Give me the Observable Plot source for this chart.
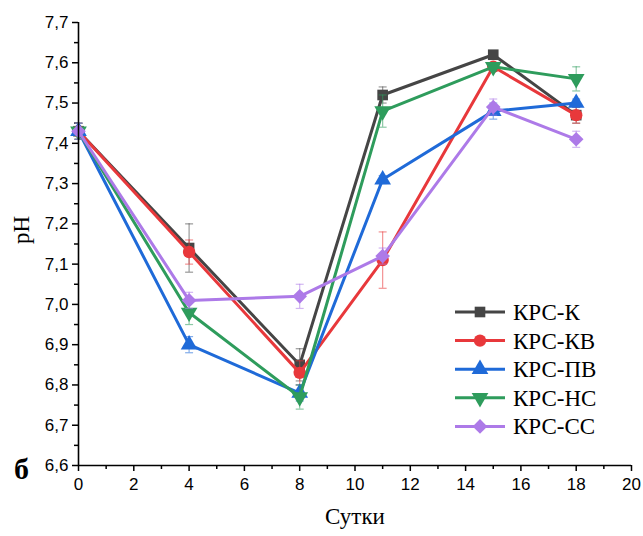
<!DOCTYPE html>
<html>
<head>
<meta charset="utf-8">
<script src="https://cdn.jsdelivr.net/npm/d3@7"></script>
<script src="https://cdn.jsdelivr.net/npm/@observablehq/plot@0.6"></script>
<style>
  body { margin: 0; background: #fff; }
  #wrap { position: relative; width: 643px; height: 536px; background: #fff; }
  #panel { position: absolute; left: 14px; top: 452px; font: bold 30px "Liberation Serif", "Times New Roman", serif; }
  #legend { position: absolute; left: 450px; top: 296px; }
</style>
</head>
<body>
<div id="wrap">
  <div id="chart"></div>
  <div id="panel">б</div>
  <svg id="legend" width="190" height="150"></svg>
</div>
<script>
// ---- data ----
const days = [0, 4, 8, 11, 15, 18];
const seriesNames = ["КРС-К", "КРС-КВ", "КРС-ПВ", "КРС-НС", "КРС-СС"];
const phK  = [7.43, 7.14, 6.85, 7.52, 7.62, 7.47];
const phKV = [7.43, 7.13, 6.83, 7.11, 7.59, 7.47];
const phPV = [7.43, 6.90, 6.78, 7.31, 7.48, 7.50];
const phNS = [7.43, 6.98, 6.77, 7.48, 7.59, 7.56];
const phSS = [7.43, 7.01, 7.02, 7.12, 7.49, 7.41];
const errK  = [0.02, 0.06, 0.04, 0.02, 0.01, 0.02];
const errKV = [0.02, 0.03, 0.03, 0.07, 0.01, 0.02];
const errPV = [0.02, 0.02, 0.02, 0.01, 0.02, 0.01];
const errNS = [0.02, 0.03, 0.03, 0.04, 0.01, 0.03];
const errSS = [0.02, 0.02, 0.03, 0.02, 0.02, 0.02];
const xTicks = [0, 2, 4, 6, 8, 10, 12, 14, 16, 18, 20];
const xMinor = [1, 3, 5, 7, 9, 11, 13, 15, 17, 19];
const yTicks = [6.6, 6.7, 6.8, 6.9, 7.0, 7.1, 7.2, 7.3, 7.4, 7.5, 7.6, 7.7];
const yMinor = [6.65, 6.75, 6.85, 6.95, 7.05, 7.15, 7.25, 7.35, 7.45, 7.55, 7.65];
const xLabel = "Сутки";
const yLabel = "pH";

// ---- styling ----
const colors = ["#454545", "#e8383b", "#1f6ad8", "#2e9c5c", "#ad7ae8"];
const downTriangle = {
  draw(ctx, size) {
    const s3 = Math.sqrt(3);
    const y = Math.sqrt(size / (s3 * 3));
    ctx.moveTo(0, 2 * y);
    ctx.lineTo(-s3 * y, -y);
    ctx.lineTo(s3 * y, -y);
    ctx.closePath();
  }
};
const capSymbol = {
  draw(ctx, size) {
    const w = Math.sqrt(size) / 2;
    ctx.moveTo(-w, 0);
    ctx.lineTo(w, 0);
  }
};
const symbols = ["square", "circle", "triangle", downTriangle, "diamond2"];
const radii = [6, 6.2, 6.2, 6.2, 6.6];

const values = [phK, phKV, phPV, phNS, phSS];
const errors = [errK, errKV, errPV, errNS, errSS];
const rows = seriesNames.map((name, i) => days.map((d, j) => ({
  series: name, day: d, ph: values[i][j], lo: values[i][j] - errors[i][j], hi: values[i][j] + errors[i][j]
})));

const fmt = d => d3.format(".1f")(d).replace(".", ",");

const marks = [
  Plot.axisY(yTicks, {tickSize: 6, tickPadding: 4, tickFormat: fmt, label: null, fontSize: 17, strokeWidth: 1.5}),
  Plot.axisY(yMinor, {tickSize: 4, tickFormat: () => "", label: null, strokeWidth: 1.5}),
  Plot.axisX(xTicks, {tickSize: 6, tickPadding: 6, tickFormat: d => String(d), label: null, fontSize: 17, strokeWidth: 1.5}),
  Plot.axisX(xMinor, {tickSize: 4, tickFormat: () => "", label: null, strokeWidth: 1.5}),
];
rows.forEach((data, i) => {
  marks.push(
    Plot.ruleX(data, {x: "day", y1: "lo", y2: "hi", stroke: colors[i], strokeOpacity: 0.55, strokeWidth: 1.2}),
    Plot.dot(data, {x: "day", y: "lo", symbol: capSymbol, r: 4.5, stroke: colors[i], strokeOpacity: 0.55, strokeWidth: 1.2}),
    Plot.dot(data, {x: "day", y: "hi", symbol: capSymbol, r: 4.5, stroke: colors[i], strokeOpacity: 0.55, strokeWidth: 1.2}),
    Plot.line(data, {x: "day", y: "ph", stroke: colors[i], strokeWidth: 3}),
    Plot.dot(data, {x: "day", y: "ph", symbol: symbols[i], r: radii[i], fill: colors[i], stroke: null})
  );
});
marks.push(
  Plot.ruleX([0], {stroke: "#000", strokeWidth: 1.6}),
  Plot.ruleY([6.6], {stroke: "#000", strokeWidth: 1.6}),
  Plot.text([xLabel], {frameAnchor: "bottom", dy: 58, fontFamily: "Liberation Serif", fontSize: 23, fill: "#000"}),
  Plot.text([yLabel], {frameAnchor: "left", dx: -57, rotate: -90, fontFamily: "Liberation Serif", fontSize: 23, fill: "#000"})
);

const chart = Plot.plot({
  width: 643,
  height: 536,
  marginLeft: 78,
  marginRight: 12,
  marginTop: 22,
  marginBottom: 71,
  x: {domain: [0, 20]},
  y: {domain: [6.6, 7.7]},
  style: {fontFamily: "Liberation Sans, Arial, sans-serif", fontSize: "17px", color: "#000", background: "#fff"},
  marks
});
document.getElementById("chart").appendChild(chart);

// ---- legend ----
const leg = d3.select("#legend");
const rowH = 28.6;
seriesNames.forEach((name, i) => {
  const g = leg.append("g").attr("transform", `translate(0, ${16 + i * rowH})`);
  g.append("line").attr("x1", 5).attr("x2", 55).attr("y1", 0).attr("y2", 0)
    .attr("stroke", colors[i]).attr("stroke-width", 3);
  const symType = typeof symbols[i] === "string"
    ? {square: d3.symbolSquare, circle: d3.symbolCircle, triangle: d3.symbolTriangle, diamond2: d3.symbolDiamond2}[symbols[i]]
    : symbols[i];
  g.append("path").attr("transform", "translate(30,0)")
    .attr("d", d3.symbol(symType, Math.PI * radii[i] * radii[i])())
    .attr("fill", colors[i]);
  g.append("text").attr("x", 63).attr("y", 0).attr("dy", "0.35em")
    .attr("font-family", "Liberation Serif, Times New Roman, serif").attr("font-size", 23)
    .attr("fill", "#000").text(name);
});
</script>
</body>
</html>
